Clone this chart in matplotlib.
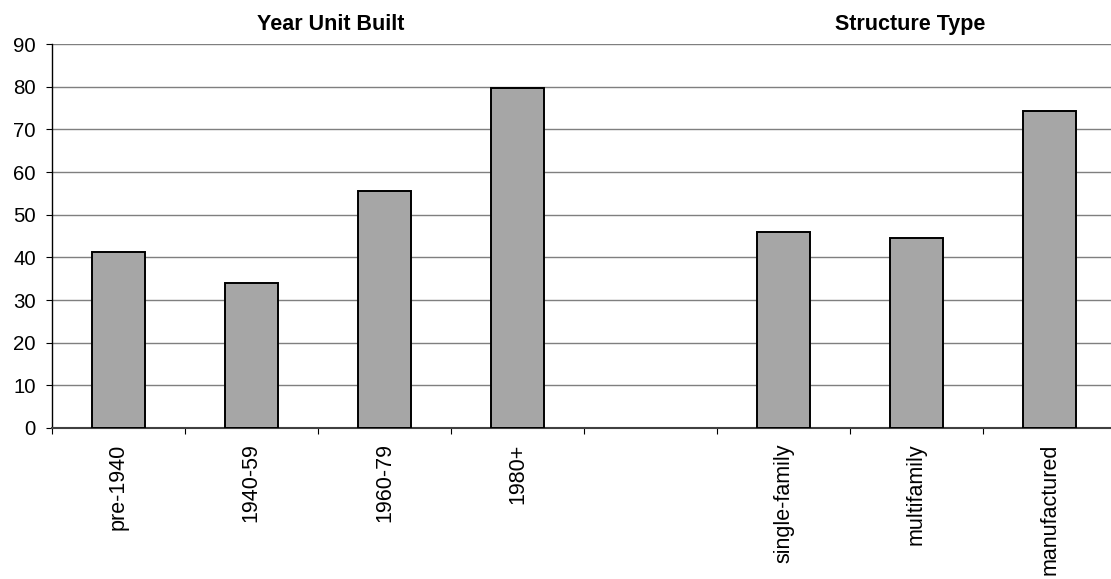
import matplotlib
matplotlib.use("Agg")
import matplotlib.pyplot as plt
import numpy as np

plt.rcParams["font.family"] = ["Liberation Sans", "DejaVu Sans"]

# Share of units (percent), by year built and by structure type
year_labels = ["pre-1940", "1940-59", "1960-79", "1980+"]
year_values = [41.2, 34.1, 55.6, 79.6]
structure_labels = ["single-family", "multifamily", "manufactured"]
structure_values = [45.9, 44.5, 74.4]
group_titles = ["Year Unit Built", "Structure Type"]
y_ticks = list(range(0, 100, 10))

# one empty slot separates the two groups
labels = year_labels + [""] + structure_labels
values = year_values + [np.nan] + structure_values
x = np.arange(len(labels))

fig = plt.figure(figsize=(11.11, 5.79), dpi=100)
ax = fig.add_axes([0.0466, 0.2608, 0.958, 0.663])

bar_x = [xi for xi, v in zip(x, values) if not np.isnan(v)]
bar_v = [v for v in values if not np.isnan(v)]
ax.bar(bar_x, bar_v, width=0.4, color="#a6a6a6", edgecolor="black",
       linewidth=1.4, zorder=3)

ax.set_xlim(-0.5, len(labels) - 0.5)
ax.set_ylim(0, 90)
ax.set_yticks(y_ticks)
ax.yaxis.grid(True, color="#7f7f7f", linewidth=1.0, zorder=0)
ax.set_axisbelow(True)

# category boundaries carry the tick marks, labels sit at the centres
ax.set_xticks(np.arange(-0.5, len(labels) + 0.5, 1.0))
ax.set_xticklabels([])
ax.set_xticks(x, minor=True)
ax.set_xticklabels(labels, minor=True, rotation=90, fontsize=15.5,
                   va="top", ha="center")
ax.tick_params(axis="x", which="major", direction="out", length=4,
               width=0.8, color="black")
ax.tick_params(axis="x", which="minor", length=0, pad=11)
ax.tick_params(axis="y", direction="out", length=4.5, width=0.8,
               labelsize=14.7, pad=7)

for side in ["top", "right"]:
    ax.spines[side].set_visible(False)
ax.spines["left"].set_color("black")
ax.spines["left"].set_linewidth(1.0)
ax.spines["bottom"].set_color("#404040")
ax.spines["bottom"].set_linewidth(1.5)

# group headings above the plot area
for title, xpos in zip(group_titles, [1.6, 5.95]):
    ax.annotate(title, xy=(xpos, 0.958), xycoords=("data", "figure fraction"),
                ha="center", va="center", fontsize=15.5, fontweight="bold")

fig.savefig("out.png", dpi=100, facecolor="white")
